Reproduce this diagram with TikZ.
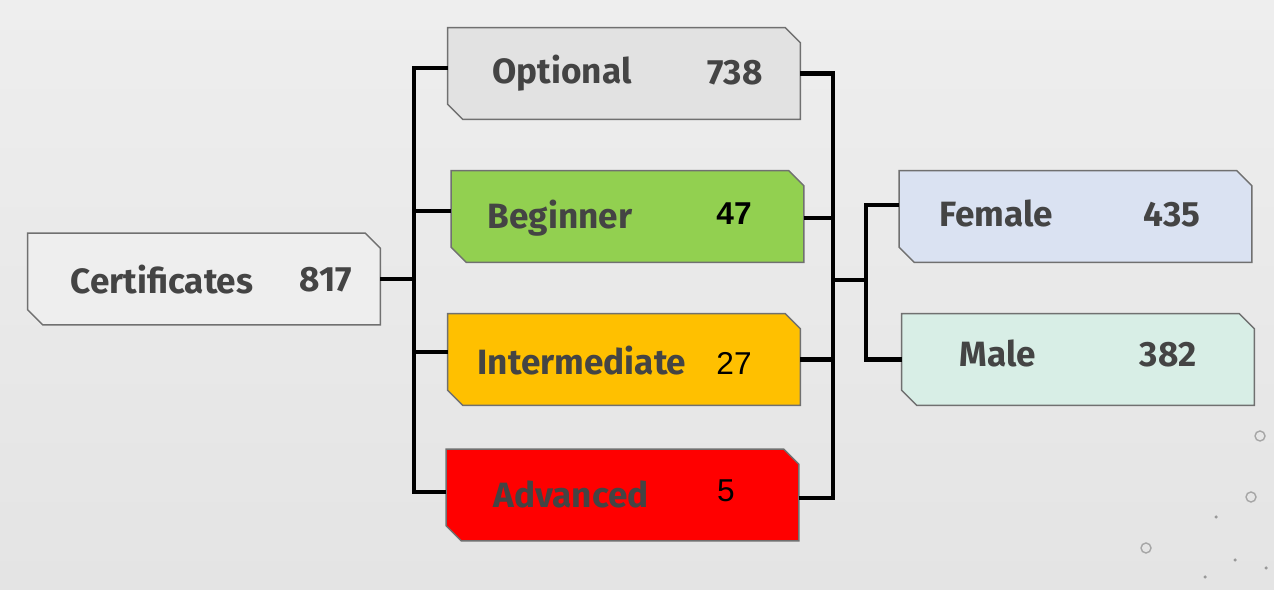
\documentclass[tikz,border=0pt]{standalone}
\usepackage{fontspec}
\setmainfont{Fira Sans}
\newfontfamily\numfont{Liberation Sans}
\definecolor{bgtop}{HTML}{EEEEEE}
\definecolor{bgbot}{HTML}{E4E4E4}
\definecolor{edge}{HTML}{707070}
\definecolor{txt}{HTML}{444444}
\definecolor{certfill}{HTML}{EEEEEE}
\definecolor{optfill}{HTML}{E2E2E2}
\definecolor{begfill}{HTML}{92D050}
\definecolor{intfill}{HTML}{FFC000}
\definecolor{advfill}{HTML}{FF0000}
\definecolor{femfill}{HTML}{DAE2F2}
\definecolor{malefill}{HTML}{D8EEE6}
\tikzset{
  box/.style={rectangle, minimum width=7.04cm, minimum height=1.82cm, inner sep=0pt},
  lbl/.style={font=\fontsize{20}{24}\selectfont\bfseries, text=txt, inner sep=0pt},
  num/.style={font=\fontsize{18}{22}\selectfont\numfont, text=black, inner sep=0pt},
  wire/.style={line width=2.6pt, line join=miter},
  ring/.style={draw=gray!70, line width=0.8pt},
}
% chamfered outline round a named box
\newcommand{\cutbox}[2]{%
  \filldraw[fill=#2, draw=edge, line width=0.8pt] (#1.north west)
    -- ([xshift=-0.3cm]#1.north east) -- ([yshift=-0.3cm]#1.north east)
    -- (#1.south east) -- ([xshift=0.3cm]#1.south west)
    -- ([yshift=0.3cm]#1.south west) -- cycle;}
\begin{document}
\begin{tikzpicture}[x=0.02cm,y=-0.02cm]
    % background
    \useasboundingbox (0,0) rectangle (1274,590);
    \shade[top color=bgtop, bottom color=bgbot] (0,0) rectangle (1274,590);
    % boxes
    \node[box] (cert) at (204,279) {};
    \node[box] (opt) at (624,73.5) {};
    \node[box] (beg) at (627.5,216.5) {};
    \node[box] (int) at (624,359.5) {};
    \node[box] (adv) at (622.5,495) {};
    \node[box] (fem) at (1075.5,216.5) {};
    \node[box] (male) at (1078,359.5) {};
    \cutbox{cert}{certfill}
    \cutbox{opt}{optfill}
    \cutbox{beg}{begfill}
    \cutbox{int}{intfill}
    \cutbox{adv}{advfill}
    \cutbox{fem}{femfill}
    \cutbox{male}{malefill}
    % texts
    \node[lbl] (cert-t) at (162,280) {Certificates};
    \node[lbl] (cert-n) at (326,280) {817};
    \node[lbl] (opt-t) at (562,73) {Optional};
    \node[lbl] (opt-n) at (735,73) {738};
    \node[lbl] (beg-t) at (560,218) {Beginner};
    \node[num, font=\fontsize{18}{22}\selectfont\numfont\bfseries] (beg-n) at (734,214) {47};
    \node[lbl] (int-t) at (582,361) {Intermediate};
    \node[num] (int-n) at (734,363) {27};
    \node[lbl] (adv-t) at (571,494) {Advanced};
    \node[num] (adv-n) at (726,491) {5};
    \node[lbl] (fem-t) at (996,213) {Female};
    \node[lbl] (fem-n) at (1172,215) {435};
    \node[lbl] (male-t) at (998,353) {Male};
    \node[lbl] (male-n) at (1168,355) {382};
    % joints
    \coordinate (jl) at (414,279);
    \coordinate (jr) at (833,280);
    \coordinate (jg) at (866,280);
    % connectors
    \draw[wire] (cert) -- (jl);
    \draw[wire] ([yshift=0.11cm]opt.west) -| (jl);
    \draw[wire] ([yshift=0.11cm]beg.west) -| (jl);
    \draw[wire] ([yshift=0.15cm]int.west) -| (jl);
    \draw[wire] ([yshift=0.06cm]adv.west) -| (jl);
    \draw[wire] (opt.east) -| (jr);
    \draw[wire] ([yshift=-0.03cm]beg.east) -| (jr);
    \draw[wire] (int.east) -| (jr);
    \draw[wire] ([yshift=-0.06cm]adv.east) -| (jr);
    \draw[wire] (jr) -- (jg);
    \draw[wire] (jg) |- ([yshift=0.23cm]fem.west);
    \draw[wire] (jg) |- (male.west);
    % decoration
    \draw[ring] (1260,436) circle (0.1cm);
    \draw[ring] (1251,497) circle (0.1cm);
    \draw[ring] (1146,548) circle (0.1cm);
    \foreach \p in {(1216,517),(1235,560),(1266,568),(1205,577)}
      \fill[gray!80] \p circle (0.035cm);
\end{tikzpicture}
\end{document}
